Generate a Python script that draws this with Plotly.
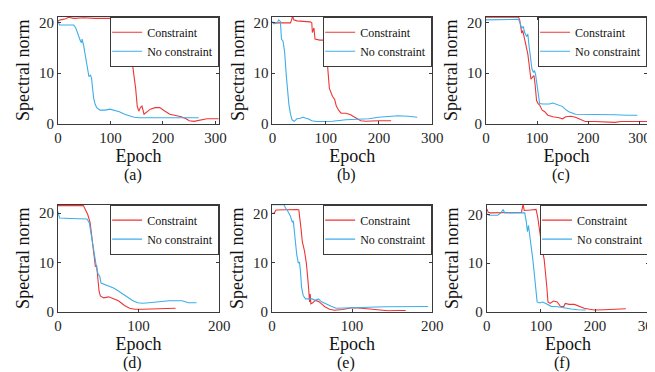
import plotly.graph_objects as go

# ---------------- data ----------------
a_con_x = [0, 5, 15, 20, 30, 50, 70, 90, 105, 111, 114, 118, 121, 123, 127, 133, 139, 142, 148, 151, 154, 157, 160, 164, 170, 176, 185, 194, 204, 213, 222, 235, 244, 250, 259, 272, 284, 306]
a_con_y = [20.3, 20.5, 20.7, 21.0, 20.8, 20.9, 20.8, 20.8, 20.9, 20.8, 18.0, 18.9, 16.5, 14.7, 14.3, 14.5, 14.1, 12.0, 7.0, 3.5, 2.5, 3.2, 3.5, 1.9, 2.5, 2.9, 3.2, 3.2, 2.5, 1.9, 1.7, 1.4, 1.0, 0.6, 0.5, 0.8, 1.0, 1.0]
a_free_x = [0, 3, 10, 30, 34, 37, 40, 43, 45, 46, 49, 52, 56, 59, 62, 64, 66, 68, 71, 74, 80, 90, 99, 108, 117, 127, 136, 145, 154, 191, 222, 268]
a_free_y = [20.3, 19.5, 19.5, 19.5, 18.9, 18.0, 17.0, 16.3, 16.0, 16.7, 15.4, 13.5, 10.9, 9.3, 9.6, 9.0, 7.0, 5.1, 3.8, 3.2, 2.7, 2.7, 2.9, 2.7, 2.4, 1.9, 1.6, 1.3, 1.2, 1.2, 1.2, 1.2]

b_con_x = [0, 20, 34, 36, 38, 40, 46, 58, 71, 74, 75, 78, 80, 89, 98, 100, 102, 105, 107, 113, 117, 120, 125, 129, 138, 147, 153, 160, 166, 175, 187, 199, 223]
b_con_y = [19.9, 19.9, 19.9, 20.5, 21.3, 20.5, 20.3, 20.2, 20.1, 19.9, 18.0, 18.9, 16.7, 16.5, 16.5, 16.3, 12.8, 9.6, 7.0, 5.4, 4.8, 3.5, 2.6, 2.1, 2.1, 1.8, 1.4, 1.0, 0.6, 0.5, 0.6, 0.6, 0.6]
b_free_x = [0, 3, 9, 12, 15, 17, 20, 23, 26, 28, 31, 34, 37, 41, 46, 52, 58, 63, 67, 74, 83, 95, 113, 138, 163, 181, 199, 218, 236, 255, 272]
b_free_y = [20.2, 19.7, 19.9, 20.5, 20.2, 16.7, 16.3, 14.1, 9.6, 6.4, 3.8, 1.9, 0.8, 0.5, 1.0, 1.1, 1.3, 1.1, 1.0, 0.6, 0.45, 0.45, 0.5, 0.8, 1.0, 1.0, 1.3, 1.5, 1.6, 1.5, 1.3]

c_con_x = [0, 30, 64, 66, 68, 70, 72, 75, 78, 82, 85, 88, 91, 94, 96, 99, 102, 105, 110, 115, 121, 131, 143, 150, 156, 166, 175, 185, 194, 213, 252, 264, 277, 315]
c_con_y = [21.0, 21.0, 21.0, 20.5, 18.8, 17.9, 18.4, 16.6, 15.6, 13.7, 10.5, 8.8, 9.2, 9.5, 7.9, 4.6, 4.0, 3.7, 2.7, 2.4, 1.7, 1.4, 1.2, 1.0, 1.4, 1.5, 1.3, 0.8, 0.45, 0.45, 0.3, 0.45, 0.45, 0.45]
c_free_x = [0, 30, 64, 67, 70, 73, 76, 80, 82, 84, 87, 90, 93, 95, 97, 100, 103, 105, 111, 124, 131, 140, 150, 156, 162, 175, 194, 226, 252, 277, 296]
c_free_y = [20.5, 20.6, 20.6, 19.8, 18.8, 19.2, 17.9, 17.2, 17.7, 15.6, 13.0, 10.8, 10.1, 10.5, 9.8, 7.2, 5.3, 4.0, 3.9, 3.9, 4.1, 3.7, 3.4, 2.8, 2.4, 1.9, 1.9, 1.9, 1.8, 1.7, 1.7]

d_con_x = [0, 15, 31.6, 34, 37, 40, 41.5, 43, 44.5, 46.5, 48, 49.5, 51, 52.6, 56.7, 63, 69, 75, 79, 83, 89, 95, 105, 121, 138, 146]
d_con_y = [21.5, 21.5, 21.5, 20.7, 19.7, 18.0, 16.0, 14.0, 11.4, 9.1, 9.4, 6.8, 4.2, 3.2, 2.8, 3.0, 2.6, 2.2, 1.7, 1.2, 0.7, 0.5, 0.5, 0.6, 0.7, 0.7]
d_free_x = [0, 2, 16, 36, 39, 41.5, 43, 44.5, 46.5, 48, 49.5, 52, 53.5, 56.7, 63, 69, 75, 81, 87, 93, 99, 105, 113, 125, 138, 154, 162, 172]
d_free_y = [20.3, 19.0, 18.9, 18.8, 18.0, 15.4, 13.7, 11.7, 9.8, 8.8, 7.8, 7.1, 5.8, 5.6, 5.1, 4.8, 4.2, 3.5, 2.8, 2.2, 1.8, 1.7, 1.8, 2.0, 2.2, 2.2, 1.8, 1.8]

e_con_x = [0, 3, 5, 19, 31.6, 33.6, 35, 36.4, 38, 40.5, 43, 44.5, 45.7, 47, 47.8, 48.6, 51, 54, 58, 62, 66, 72, 78, 88, 100, 112, 129, 145, 157, 167]
e_con_y = [20.0, 20.1, 20.7, 20.8, 20.8, 20.7, 19.1, 16.8, 14.2, 12.5, 9.9, 7.6, 5.0, 2.0, 3.6, 1.6, 1.8, 2.3, 2.1, 1.6, 1.0, 0.5, 0.3, 0.45, 0.8, 0.7, 0.5, 0.2, 0.25, 0.25]
e_free_x = [0, 15, 17, 19, 23, 25.5, 26.7, 28.3, 31, 33, 34.4, 35.6, 37, 39, 42, 45.7, 50, 54, 58, 62, 68, 74, 80, 92, 104, 121, 141, 165, 195]
e_free_y = [21.8, 21.8, 21.1, 20.7, 19.5, 18.2, 18.5, 15.5, 11.6, 9.9, 10.1, 8.3, 5.0, 3.3, 2.6, 2.6, 2.6, 2.3, 2.6, 2.0, 1.5, 1.1, 0.7, 0.8, 0.85, 0.9, 1.0, 1.0, 1.05]

f_con_x = [0, 2.5, 7, 57, 64, 67, 69, 81, 91, 94, 97, 100, 103, 106, 109, 111, 113, 117, 123, 130, 136, 142, 145, 152, 162, 171, 180, 190, 199, 217, 236, 257]
f_con_y = [21.2, 20.5, 20.4, 20.4, 20.5, 22.2, 20.9, 21.0, 21.1, 19.5, 17.2, 14.1, 12.5, 10.8, 7.7, 5.0, 2.0, 1.7, 2.2, 2.0, 1.1, 1.0, 1.7, 1.5, 1.5, 1.1, 0.7, 0.5, 0.35, 0.4, 0.5, 0.6]
f_free_x = [0, 4, 20, 26, 30, 33, 57, 70, 73, 75, 77, 80, 83, 85, 88, 90, 93, 97, 103, 109, 119, 131, 143, 156, 168, 183]
f_free_y = [20.2, 19.9, 19.9, 20.4, 21.1, 20.4, 20.4, 20.4, 18.5, 16.5, 17.8, 14.5, 12.5, 10.8, 7.7, 4.4, 2.0, 1.8, 2.0, 1.7, 1.1, 1.0, 0.75, 0.55, 0.4, 0.35]

panel_labels = ["(a)", "(b)", "(c)", "(d)", "(e)", "(f)"]
x_max = [307, 300, 315, 200, 200, 300]
y_max = [21.1, 21.1, 21.1, 21.7, 21.8, 22.1]
x_tickvals = [[0, 100, 200, 300], [0, 100, 200, 300], [0, 100, 200, 300],
              [0, 100, 200], [0, 100, 200], [0, 100, 200, 300]]
y_tickvals = [0, 10, 20]
series_names = ["Constraint", "No constraint"]

panels = [
    (a_con_x, a_con_y, a_free_x, a_free_y),
    (b_con_x, b_con_y, b_free_x, b_free_y),
    (c_con_x, c_con_y, c_free_x, c_free_y),
    (d_con_x, d_con_y, d_free_x, d_free_y),
    (e_con_x, e_con_y, e_free_x, e_free_y),
    (f_con_x, f_con_y, f_free_x, f_free_y),
]

# ---------------- layout geometry (pixels) ----------------
W, H = 655, 372
boxes = [(47, 212, 7, 117), (266.5, 430, 7, 117), (485, 650, 7, 117),
         (47, 212, 200, 310), (266, 430, 200, 310), (486, 652, 200, 310)]

RED = "#EE3535"
BLUE = "#3DAEEA"
FONT = "Liberation Serif"
AX = "#3a3a3a"

fig = go.Figure()
layout = dict(width=W, height=H, margin=dict(l=0, r=0, t=0, b=0),
              paper_bgcolor="white", plot_bgcolor="white",
              font=dict(family=FONT, color="#222222"), annotations=[])

for i, (cx, cy, fx, fy) in enumerate(panels):
    k = i + 1
    sfx = "" if k == 1 else str(k)
    leg = "legend" if k == 1 else f"legend{k}"
    fig.add_trace(go.Scatter(x=cx, y=cy, mode="lines", name=series_names[0],
                             line=dict(color=RED, width=1.1),
                             xaxis=f"x{sfx}", yaxis=f"y{sfx}", legend=leg))
    fig.add_trace(go.Scatter(x=fx, y=fy, mode="lines", name=series_names[1],
                             line=dict(color=BLUE, width=1.1),
                             xaxis=f"x{sfx}", yaxis=f"y{sfx}", legend=leg))
    x0, x1, y0, y1 = boxes[i]
    xd = [x0 / W, x1 / W]
    yd = [1 - y1 / H, 1 - y0 / H]
    layout[f"xaxis{sfx}"] = dict(
        domain=xd, anchor=f"y{sfx}", range=[0, x_max[i]], tickvals=x_tickvals[i],
        showgrid=False, zeroline=False, showline=True, linecolor=AX, linewidth=1,
        mirror="ticks", ticks="inside", ticklen=3, tickcolor=AX,
        tickfont=dict(size=15, family=FONT, color="#262626"), ticklabelstandoff=0,
        title=dict(text="Epoch", font=dict(size=18, family=FONT, color="#111111"), standoff=0))
    layout[f"yaxis{sfx}"] = dict(
        domain=yd, anchor=f"x{sfx}", range=[0, y_max[i]], tickvals=y_tickvals,
        showgrid=False, zeroline=False, showline=True, linecolor=AX, linewidth=1,
        mirror="ticks", ticks="inside", ticklen=3, tickcolor=AX,
        tickfont=dict(size=15, family=FONT, color="#262626"), ticklabelstandoff=0,
        title=dict(text="Spectral norm", font=dict(size=18, family=FONT, color="#111111"), standoff=4))
    layout[leg] = dict(x=xd[1], y=yd[1], xanchor="right", yanchor="top",
                       bgcolor="white", bordercolor=AX, borderwidth=1,
                       font=dict(size=12, family=FONT, color="#111111"),
                       itemwidth=30, tracegroupgap=0, indentation=-4)
    layout["annotations"].append(dict(
        text=panel_labels[i], x=(xd[0] + xd[1]) / 2, xshift=-6,
        y=1 - (y1 + 53) / H, xref="paper", yref="paper", showarrow=False,
        font=dict(size=16, family=FONT, color="#111111"), xanchor="center", yanchor="middle"))

fig.update_layout(**layout)
fig.write_html("out.html")
